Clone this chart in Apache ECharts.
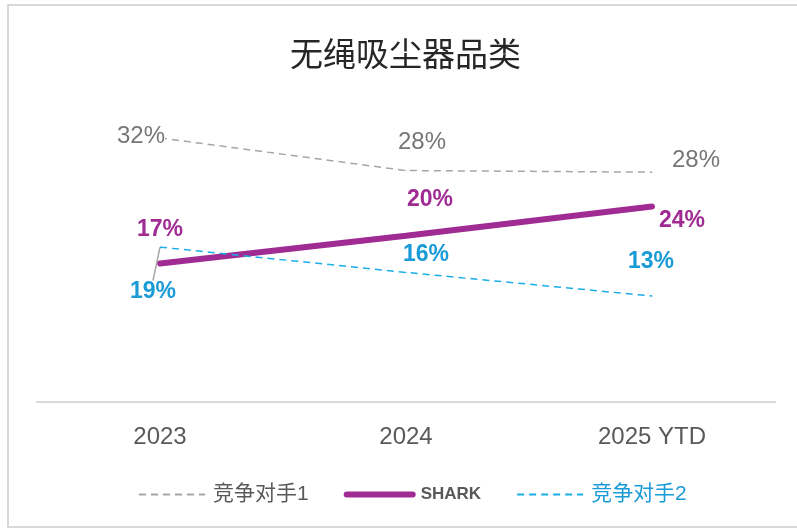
<!DOCTYPE html>
<html>
<head>
<meta charset="utf-8">
<script src="https://cdn.jsdelivr.net/npm/echarts@6/dist/echarts.min.js"></script>
<style>html,body{margin:0;padding:0;background:#fff;}#c{width:797px;height:529px;}</style>
</head>
<body>
<div id="c"></div>
<script>
// ---- data ----
var categories = ['2023', '2024', '2025 YTD'];
var seriesNames = ['竞争对手1', 'SHARK', '竞争对手2'];
var competitor1 = [32.4, 28.4, 28.2];
var shark = [17, 20.4, 24];
var competitor2 = [19, 15.9, 13];

// ---- label placement (style, px offsets from the point) ----
var labelOffsets = [
  [[-19, -2], [16, -28], [44, -12]],
  [[0, -34], [24, -36], [30, 14]],
  [[-7, 45], [20, -18], [-1, -34]]
];

var cjk = '"Liberation Sans", Arial, "Noto Sans CJK SC", sans-serif';
var chart = echarts.init(document.getElementById('c'), null, {renderer: 'canvas'});
function fmt(p) { return Math.round(p.value) + '%'; }

var option = {
  backgroundColor: '#ffffff',
  animation: false,
  title: {
    text: '无绳吸尘器品类',
    left: 285,
    top: 32,
    textStyle: {fontFamily: '"Noto Sans CJK SC", sans-serif', fontSize: 33, fontWeight: 'normal', color: '#262626'}
  },
  graphic: [{
    type: 'rect', shape: {x: 8, y: 5, width: 800, height: 522},
    style: {fill: 'none', stroke: '#d9d9d9', lineWidth: 2}, silent: true, z: -1
  }],
  grid: {left: 37, right: 22, top: 76, bottom: 127},
  xAxis: {
    type: 'category',
    data: categories,
    boundaryGap: true,
    axisLine: {lineStyle: {color: '#d9d9d9', width: 2}},
    axisTick: {show: false},
    axisLabel: {margin: 23, fontFamily: cjk, fontSize: 24, color: '#595959'}
  },
  yAxis: {type: 'value', min: 0, max: 40, show: false, splitLine: {show: false}},
  legend: {
    left: 133, top: 479,
    itemWidth: 66, itemHeight: 14, itemGap: 35,
    itemStyle: {opacity: 0},
    data: [
      {name: seriesNames[0], textStyle: {color: '#595959', fontSize: 21, fontFamily: cjk, padding: [0, 0, 0, 3]}},
      {name: seriesNames[1], lineStyle: {width: 6, cap: 'round'},
       textStyle: {color: '#595959', fontSize: 17, fontWeight: 'bold', fontFamily: cjk, padding: [0, 0, 0, 3]}},
      {name: seriesNames[2], textStyle: {color: '#1a9ad6', fontSize: 21, fontFamily: cjk, padding: [0, 0, 0, 3]}}
    ]
  },
  labelLayout: function (p) {
    var o = labelOffsets[p.seriesIndex][p.dataIndex];
    return {dx: o[0], dy: o[1]};
  },
  series: [
    {
      name: seriesNames[0], type: 'line', data: competitor1,
      symbol: 'circle', symbolSize: 1, showSymbol: true,
      itemStyle: {color: '#a6a6a6'},
      lineStyle: {color: '#a6a6a6', width: 1.5, type: [7, 5]},
      label: {show: true, position: 'inside', formatter: fmt, fontFamily: cjk, fontSize: 24, color: '#767676', backgroundColor: '#ffffff'},
      z: 2
    },
    {
      name: seriesNames[1], type: 'line', data: shark,
      symbol: 'circle', symbolSize: 1, showSymbol: true,
      itemStyle: {color: '#a02b93'},
      lineStyle: {color: '#a02b93', width: 6, cap: 'round'},
      label: {show: true, position: 'inside', formatter: fmt, fontFamily: cjk, fontSize: 23, fontWeight: 'bold', color: '#a02b93'},
      z: 3
    },
    {
      name: seriesNames[2], type: 'line',
      data: competitor2.map(function (v, i) {
        return i === 0 ? {value: v, labelLine: {show: true, lineStyle: {color: '#a6a6a6', width: 1.5}}} : v;
      }),
      symbol: 'circle', symbolSize: 1, showSymbol: true,
      itemStyle: {color: '#1aaee8'},
      lineStyle: {color: '#1aaee8', width: 1.5, type: [7, 5]},
      label: {show: true, position: 'inside', formatter: fmt, fontFamily: cjk, fontSize: 23, fontWeight: 'bold', color: '#1a9ad6'},
      labelLine: {show: false},
      z: 4
    }
  ]
};
chart.setOption(option);
</script>
</body>
</html>
